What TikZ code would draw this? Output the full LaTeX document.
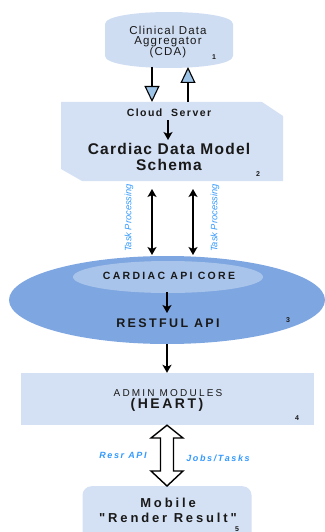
\documentclass[tikz,border=0pt]{standalone}
\usepackage{fontspec}
\setmainfont{Liberation Sans}
\usetikzlibrary{arrows.meta,shapes.geometric}
\definecolor{boxfill}{RGB}{212,224,243}
\definecolor{cdafill}{RGB}{207,221,242}
\definecolor{ellout}{RGB}{126,166,224}
\definecolor{ellin}{RGB}{169,196,235}
\definecolor{headblue}{RGB}{157,195,230}
\definecolor{lblblue}{RGB}{51,153,255}
\definecolor{txtgray}{RGB}{25,25,25}
\newcommand\lsp[1]{\addfontfeature{LetterSpace=#1}}
\begin{document}
\begin{tikzpicture}[x=1pt,y=-1pt,
  txt/.style={inner sep=0pt, align=center, text=txtgray},
  num/.style={inner sep=0pt, text=txtgray, font=\fontsize{7}{7}\selectfont\bfseries},
  thin/.style={line width=1.3pt, -{Stealth[length=8pt,width=9pt,inset=2pt]}},
  dbl/.style={line width=1.3pt, {Stealth[length=8pt,width=9pt,inset=2pt]}-{Stealth[length=8pt,width=9pt,inset=2pt]}},
  tri/.style={line width=1.1pt, -{Triangle[length=16pt,width=15pt,fill=headblue]}},
  lbl/.style={inner sep=0pt, text=lblblue}]
\useasboundingbox (0,0) rectangle (324,532);
% 1 CDA
\fill[cdafill] (105,24) .. controls (105,8) and (233,8) .. (233,24) -- (233,56) .. controls (233,72) and (105,72) .. (105,56) -- cycle;
\node[txt, font=\fontsize{11.5}{10.8}\selectfont\lsp{10}] (cda) at (168,42) {Clinical Data\\Aggregator\\(CDA)};
\node[num] (n1) at (214,57) {1};
\coordinate (cdaL) at (152,67);
\coordinate (cdaR) at (188,67);
% 2 Cloud server
\fill[boxfill] (61,102) -- (262,102) -- (283,116) -- (283,181) -- (82,181) -- (61,169) -- cycle;
\coordinate (srvL) at (152,102);
\coordinate (srvR) at (188,102);
\node[txt, font=\fontsize{10.5}{10.5}\selectfont\bfseries\lsp{14}] (cloud) at (169,113) {Cloud\ \ Server};
\node[txt, font=\fontsize{15.5}{16.5}\selectfont\bfseries\lsp{8}] (schema) at (169,157) {Cardiac Data Model\\Schema};
\node[num] (n2) at (258,174) {2};
\draw[thin] (168,120) coordinate (a2s) -- (168,140) coordinate (a2e);
\coordinate (srvB1) at (152,181);
\coordinate (srvB2) at (193,181);
% 3 Ellipse
\node[ellipse, fill=ellout, minimum width=316pt, minimum height=88pt, inner sep=0pt] (ell) at (167,300) {};
\node[ellipse, fill=ellin, minimum width=190pt, minimum height=32pt, inner sep=0pt] (core) at (168,277) {};
\node[txt, font=\fontsize{10.5}{10.5}\selectfont\bfseries\lsp{22}] (coretxt) at (169,276) {CARDIAC API CORE};
\node[txt, font=\fontsize{12.5}{12.5}\selectfont\bfseries\lsp{19}] (rest) at (168,323) {RESTFUL API};
\node[num] (n3) at (288,320) {3};
\draw[thin] (167,292) -- (167,313);
\coordinate (ellT1) at (152,255);
\coordinate (ellT2) at (193,255);
\draw[dbl] (srvB1) ++(0,8) -- (ellT1);
\draw[dbl] (srvB2) ++(0,8) -- (ellT2);
\node[lbl, rotate=90, font=\fontsize{9.3}{9.3}\selectfont\itshape] (tp1) at (129,218) {Task Processing};
\node[lbl, rotate=90, font=\fontsize{9.3}{9.3}\selectfont\itshape] (tp2) at (215,218) {Task Processing};
% CDA arrows
\draw[tri] (cdaL) -- (srvL);
\draw[tri] (srvR) -- (cdaR);
% 4 Admin
\node[fill=boxfill, minimum width=293pt, minimum height=52pt, inner sep=0pt] (admin) at (167,399) {};
\node[txt, font=\fontsize{10}{10}\selectfont\lsp{22}] (admt) at (168,393) {ADMIN MODULES};
\node[txt, font=\fontsize{14}{14}\selectfont\bfseries\lsp{18}] (heart) at (167,405) {(HEART)};
\node[num] (n4) at (297,418) {4};
\draw[thin] (ell.south) -- (admin.north);
% 5 Mobile
\node[fill=boxfill, rounded corners=9pt, minimum width=169pt, minimum height=60pt, inner sep=0pt, anchor=north] (mob) at (167,486) {};
\node[txt, font=\fontsize{13}{15}\selectfont\bfseries\addfontfeature{Ligatures=TeXOff}\lsp{22}] (mobt) at (168,510.5) {Mobile\\"Render Result"};
\node[num] (n5) at (237,529) {5};
% hollow double arrow
\draw[line width=1.4pt, fill=white, line join=miter] (admin.south) -- (183,438) -- (173.5,438) -- (173.5,471) -- (183,471) -- (mob.north) -- (151,471) -- (160.5,471) -- (160.5,438) -- (151,438) -- cycle;
\node[lbl, font=\fontsize{9}{9}\selectfont\bfseries\itshape\lsp{18}] (resr) at (123,455) {Resr API};
\node[lbl, font=\fontsize{9}{9}\selectfont\bfseries\itshape\lsp{18}] (jobs) at (218,458) {Jobs/Tasks};
\end{tikzpicture}
\end{document}
